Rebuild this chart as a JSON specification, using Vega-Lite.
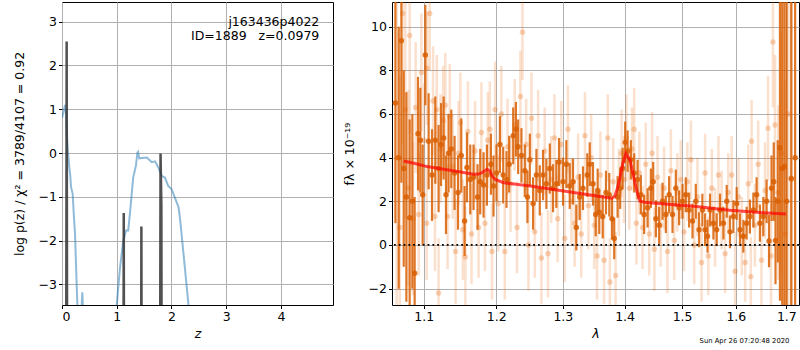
{
  "$schema": "https://vega.github.io/schema/vega-lite/v6.json",
  "padding": {"left": 12, "top": 1, "right": 0, "bottom": 0},
  "config": {
    "font": "DejaVu Sans",
    "view": {"stroke": "black", "strokeWidth": 1},
    "axis": {
      "domain": false,
      "labelFont": "DejaVu Sans", "labelFontSize": 12.5, "labelColor": "black",
      "tickColor": "black", "tickSize": 3.5, "labelPadding": 2,
      "gridColor": "#b0b0b0", "gridWidth": 1,
      "titleFont": "DejaVu Sans", "titleFontSize": 12.5, "titleFontWeight": "normal", "titleColor": "black"
    }
  },
  "title": {"text": "Sun Apr 26 07:20:48 2020", "orient": "bottom", "anchor": "end", "fontSize": 6.8, "fontWeight": "normal", "color": "black", "offset": -2, "dx": -11},
  "bounds": "flush",
  "spacing": 59,
  "datasets": {
    "chi2": [
      {"z":0.0,"v":0.8},{"z":0.03,"v":0.95},{"z":0.055,"v":1.1},{"z":0.07,"v":0.95},{"z":0.085,"v":0.45},{"z":0.11,"v":0.0},{"z":0.134,"v":-0.33},{"z":0.15,"v":-0.5},{"z":0.165,"v":-0.78},{"z":0.195,"v":-0.93},{"z":0.22,"v":-1.5},{"z":0.238,"v":-1.84},{"z":0.26,"v":-2.7},{"z":0.28,"v":-3.46},{"z":0.30,"v":-4.0},{"z":0.33,"v":-4.5},{"z":0.355,"v":-3.6},{"z":0.371,"v":-3.18},{"z":0.385,"v":-3.6},{"z":0.41,"v":-4.5},{"z":0.6,"v":-8},{"z":0.9,"v":-6},{"z":0.98,"v":-4.0},{"z":1.0,"v":-3.46},{"z":1.06,"v":-2.61},{"z":1.12,"v":-2.0},{"z":1.17,"v":-1.77},{"z":1.21,"v":-1.77},{"z":1.24,"v":-1.39},{"z":1.30,"v":-0.56},{"z":1.35,"v":-0.29},{"z":1.377,"v":0.01},{"z":1.39,"v":0.03},{"z":1.41,"v":-0.12},{"z":1.55,"v":-0.1},{"z":1.64,"v":-0.21},{"z":1.7,"v":-0.19},{"z":1.76,"v":-0.33},{"z":1.82,"v":-0.52},{"z":1.88,"v":-0.56},{"z":1.94,"v":-0.75},{"z":2.0,"v":-0.82},{"z":2.06,"v":-1.01},{"z":2.13,"v":-1.24},{"z":2.16,"v":-1.55},{"z":2.22,"v":-2.31},{"z":2.31,"v":-3.46},{"z":2.4,"v":-4.5},{"z":3.0,"v":-9},{"z":4.95,"v":-12}
    ],
    "pz": [
      {"z":0.0,"v":-20},{"z":0.06,"v":-20},{"z":0.085,"v":2.55},{"z":0.11,"v":-20},{"z":1.105,"v":-20},{"z":1.128,"v":-1.37},{"z":1.151,"v":-20},{"z":1.425,"v":-20},{"z":1.45,"v":-1.68},{"z":1.475,"v":-20},{"z":1.77,"v":-20},{"z":1.80,"v":-0.01},{"z":1.815,"v":-1.2},{"z":1.84,"v":-20},{"z":4.95,"v":-20}
    ],
    "model": [
      {"w":1.074,"f":3.85},{"w":1.09,"f":3.72},{"w":1.1045,"f":3.59},{"w":1.127,"f":3.47},{"w":1.15,"f":3.34},{"w":1.168,"f":3.24},{"w":1.175,"f":3.25},{"w":1.181,"f":3.33},{"w":1.187,"f":3.47},{"w":1.1905,"f":3.4},{"w":1.1945,"f":3.15},{"w":1.1987,"f":3.0},{"w":1.2107,"f":2.85},{"w":1.25,"f":2.7},{"w":1.301,"f":2.47},{"w":1.354,"f":2.24},{"w":1.3785,"f":2.14},{"w":1.3839,"f":2.24},{"w":1.388,"f":2.6},{"w":1.3922,"f":3.08},{"w":1.397,"f":3.75},{"w":1.4023,"f":4.18},{"w":1.409,"f":3.9},{"w":1.4135,"f":3.35},{"w":1.4175,"f":2.85},{"w":1.422,"f":2.35},{"w":1.426,"f":2.0},{"w":1.4375,"f":1.94},{"w":1.526,"f":1.76},{"w":1.588,"f":1.59},{"w":1.653,"f":1.48},{"w":1.699,"f":1.42}
    ],
    "dark": [
      {"w":1.0633,"f":6.5,"e":5.5},{"w":1.0676,"f":4.0,"e":6.0},{"w":1.071,"f":9.35,"e":6.5},{"w":1.074,"f":3.5,"e":4.5},{"w":1.0774,"f":2.2,"e":4.8},{"w":1.0817,"f":1.25,"e":4.5},{"w":1.0852,"f":2.0,"e":4.0},{"w":1.0882,"f":-1.3,"e":3.5},{"w":1.0926,"f":5.1,"e":2.6},{"w":1.0957,"f":4.8,"e":2.4},{"w":1.0987,"f":2.3,"e":2.3},{"w":1.1022,"f":8.7,"e":2.3},{"w":1.1066,"f":4.75,"e":2.2},{"w":1.1111,"f":3.2,"e":2.1},{"w":1.1155,"f":4.8,"e":2.0},{"w":1.1199,"f":3.5,"e":2.0},{"w":1.1232,"f":4.6,"e":1.9},{"w":1.1267,"f":4.9,"e":1.9},{"w":1.1299,"f":2.3,"e":1.8},{"w":1.1334,"f":4.2,"e":1.8},{"w":1.1371,"f":4.4,"e":1.8},{"w":1.1416,"f":3.3,"e":1.7},{"w":1.1463,"f":2.4,"e":1.7},{"w":1.1508,"f":4.1,"e":1.7},{"w":1.1554,"f":1.1,"e":1.6},{"w":1.1587,"f":3.55,"e":1.6},{"w":1.1633,"f":3.0,"e":1.6},{"w":1.1679,"f":3.1,"e":1.5},{"w":1.1735,"f":2.2,"e":1.5},{"w":1.1773,"f":2.9,"e":1.5},{"w":1.182,"f":2.75,"e":1.5},{"w":1.1868,"f":3.2,"e":1.4},{"w":1.1925,"f":3.7,"e":1.4},{"w":1.1962,"f":2.7,"e":1.4},
      {"w":1.2005,"f":3.3,"e":1.3},{"w":1.2054,"f":4.6,"e":1.3},{"w":1.2102,"f":3.2,"e":1.3},{"w":1.215,"f":3.0,"e":1.3},{"w":1.2189,"f":3.7,"e":1.3},{"w":1.2248,"f":5.0,"e":1.3},{"w":1.2288,"f":5.3,"e":1.25},{"w":1.2321,"f":4.5,"e":1.25},{"w":1.237,"f":4.1,"e":1.25},{"w":1.242,"f":3.4,"e":1.2},{"w":1.2459,"f":2.2,"e":1.2},{"w":1.2495,"f":3.9,"e":1.2},{"w":1.2544,"f":1.9,"e":1.2},{"w":1.2594,"f":3.2,"e":1.2},{"w":1.2645,"f":2.5,"e":1.15},{"w":1.2695,"f":3.2,"e":1.15},{"w":1.2746,"f":2.8,"e":1.15},{"w":1.2798,"f":3.5,"e":1.15},{"w":1.2848,"f":2.6,"e":1.1},{"w":1.2899,"f":2.8,"e":1.1},{"w":1.2941,"f":3.8,"e":1.1},{"w":1.3003,"f":2.9,"e":1.1},{"w":1.3055,"f":3.7,"e":1.1},{"w":1.3108,"f":2.7,"e":1.05},{"w":1.316,"f":2.9,"e":1.05},{"w":1.3212,"f":0.8,"e":1.05},{"w":1.3266,"f":2.2,"e":1.05},{"w":1.3318,"f":2.6,"e":1.0},{"w":1.3387,"f":3.2,"e":1.0},{"w":1.3426,"f":3.7,"e":1.0},{"w":1.3479,"f":2.8,"e":1.0},{"w":1.3523,"f":1.4,"e":1.0},
      {"w":1.3555,"f":2.5,"e":1.0},{"w":1.3581,"f":1.5,"e":1.0},{"w":1.3637,"f":1.3,"e":1.0},{"w":1.3691,"f":2.4,"e":1.0},{"w":1.3745,"f":2.3,"e":1.0},{"w":1.3789,"f":1.2,"e":0.95},{"w":1.3827,"f":0.3,"e":0.95},{"w":1.3883,"f":2.2,"e":0.95},{"w":1.3927,"f":2.6,"e":0.95},{"w":1.3967,"f":3.5,"e":0.95},{"w":1.401,"f":4.7,"e":0.95},{"w":1.4051,"f":4.3,"e":0.95},{"w":1.4106,"f":3.9,"e":0.9},{"w":1.4162,"f":3.3,"e":0.9},{"w":1.422,"f":3.0,"e":0.9},{"w":1.4276,"f":2.3,"e":0.9},{"w":1.4333,"f":1.4,"e":0.9},{"w":1.4392,"f":1.7,"e":0.9},{"w":1.4449,"f":2.6,"e":0.9},{"w":1.4489,"f":2.9,"e":0.9},{"w":1.4536,"f":1.2,"e":0.85},{"w":1.4593,"f":0.9,"e":0.85},{"w":1.4653,"f":2.0,"e":0.85},{"w":1.4711,"f":1.4,"e":0.85},{"w":1.4769,"f":2.3,"e":0.85},{"w":1.4829,"f":1.4,"e":0.85},{"w":1.4888,"f":2.6,"e":0.85},{"w":1.4947,"f":1.7,"e":0.8},{"w":1.5008,"f":2.0,"e":0.8},{"w":1.5067,"f":2.3,"e":0.8},{"w":1.5127,"f":1.6,"e":0.8},{"w":1.5189,"f":1.1,"e":0.8},{"w":1.5249,"f":2.0,"e":0.8},{"w":1.5309,"f":0.7,"e":0.8},
      {"w":1.537,"f":1.6,"e":0.75},{"w":1.542,"f":0.7,"e":0.75},{"w":1.5465,"f":0.4,"e":0.75},{"w":1.5512,"f":1.6,"e":0.75},{"w":1.5575,"f":1.0,"e":0.75},{"w":1.5637,"f":0.7,"e":0.75},{"w":1.5699,"f":1.6,"e":0.75},{"w":1.5763,"f":1.0,"e":0.75},{"w":1.5826,"f":2.0,"e":0.75},{"w":1.5888,"f":0.6,"e":0.75},{"w":1.5953,"f":1.3,"e":0.75},{"w":1.6016,"f":1.9,"e":0.75},{"w":1.608,"f":0.7,"e":0.75},{"w":1.6145,"f":0.4,"e":0.75},{"w":1.6209,"f":1.0,"e":0.75},{"w":1.6273,"f":1.3,"e":0.78},{"w":1.634,"f":1.6,"e":0.8},{"w":1.6404,"f":2.3,"e":0.8},{"w":1.6469,"f":1.0,"e":0.85},{"w":1.6536,"f":1.3,"e":0.9},{"w":1.6602,"f":2.0,"e":1.0},{"w":1.665,"f":0.18,"e":1.2},{"w":1.67,"f":2.6,"e":1.5},{"w":1.6745,"f":2.9,"e":1.8},{"w":1.678,"f":0.2,"e":2.0},{"w":1.6825,"f":2.0,"e":2.8},{"w":1.687,"f":4.45,"e":7},{"w":1.6915,"f":3.5,"e":8},{"w":1.696,"f":3.6,"e":8},{"w":1.7005,"f":2.0,"e":12},{"w":1.71,"f":3.05,"e":12},{"w":1.718,"f":4.0,"e":12}
    ],
    "light": [
      {"w":1.065,"f":4.0,"e":8},{"w":1.069,"f":0.8,"e":7},{"w":1.0725,"f":10.6,"e":6},{"w":1.076,"f":6.2,"e":5},{"w":1.08,"f":2.6,"e":4.5},{"w":1.0817,"f":9.6,"e":4.5},{"w":1.086,"f":1.2,"e":3.5},{"w":1.0895,"f":6.3,"e":3.0},{"w":1.0935,"f":1.4,"e":2.8},{"w":1.097,"f":7.9,"e":2.7},{"w":1.1005,"f":4.8,"e":2.6},{"w":1.104,"f":1.0,"e":2.6},{"w":1.1045,"f":8.1,"e":2.6},{"w":1.108,"f":10.6,"e":2.6},{"w":1.1125,"f":6.6,"e":2.5},{"w":1.115,"f":1.3,"e":2.5},{"w":1.1175,"f":6.2,"e":2.5},{"w":1.1199,"f":-2.2,"e":2.5},{"w":1.1225,"f":4.4,"e":2.5},{"w":1.126,"f":5.7,"e":2.5},{"w":1.129,"f":6.4,"e":2.4},{"w":1.132,"f":1.3,"e":2.4},{"w":1.135,"f":5.9,"e":2.4},{"w":1.139,"f":3.6,"e":2.4},{"w":1.143,"f":-0.3,"e":2.4},{"w":1.147,"f":4.2,"e":2.4},{"w":1.1495,"f":5.6,"e":2.3},{"w":1.153,"f":0.7,"e":2.3},{"w":1.1565,"f":-0.55,"e":2.3},{"w":1.16,"f":5.2,"e":2.3},{"w":1.165,"f":0.5,"e":2.3},{"w":1.17,"f":4.3,"e":2.3},{"w":1.175,"f":0.8,"e":2.3},{"w":1.179,"f":5.15,"e":2.3},{"w":1.184,"f":1.0,"e":2.2},{"w":1.188,"f":4.8,"e":2.2},{"w":1.191,"f":5.3,"e":2.2},{"w":1.194,"f":-0.3,"e":2.2},{"w":1.1985,"f":6.2,"e":2.2},
      {"w":1.203,"f":1.9,"e":2.2},{"w":1.2075,"f":6.0,"e":2.2},{"w":1.2125,"f":-0.3,"e":2.2},{"w":1.2165,"f":4.5,"e":2.2},{"w":1.221,"f":2.8,"e":2.2},{"w":1.227,"f":5.5,"e":2.1},{"w":1.2305,"f":0.8,"e":2.1},{"w":1.2355,"f":6.8,"e":2.1},{"w":1.2385,"f":9.75,"e":2.2},{"w":1.244,"f":4.6,"e":2.1},{"w":1.2475,"f":0.0,"e":2.1},{"w":1.252,"f":5.8,"e":2.1},{"w":1.257,"f":0.6,"e":2.1},{"w":1.262,"f":5.0,"e":2.1},{"w":1.267,"f":-0.6,"e":2.1},{"w":1.272,"f":4.3,"e":2.0},{"w":1.277,"f":-0.4,"e":2.0},{"w":1.282,"f":3.0,"e":2.0},{"w":1.287,"f":4.9,"e":2.0},{"w":1.292,"f":1.2,"e":2.0},{"w":1.2975,"f":4.6,"e":2.0},{"w":1.303,"f":0.3,"e":2.0},{"w":1.308,"f":5.3,"e":2.0},{"w":1.3135,"f":2.0,"e":2.0},{"w":1.3185,"f":1.0,"e":2.0},{"w":1.324,"f":3.1,"e":2.0},{"w":1.329,"f":0.5,"e":2.0},{"w":1.335,"f":5.0,"e":2.0},{"w":1.3405,"f":1.8,"e":2.0},{"w":1.345,"f":4.0,"e":2.0},
      {"w":1.35,"f":0.9,"e":2.0},{"w":1.3545,"f":-0.5,"e":2.0},{"w":1.36,"f":3.2,"e":2.0},{"w":1.366,"f":-0.7,"e":2.0},{"w":1.372,"f":4.9,"e":2.0},{"w":1.3755,"f":-1.7,"e":2.0},{"w":1.381,"f":2.9,"e":2.0},{"w":1.385,"f":-1.4,"e":2.0},{"w":1.3905,"f":2.4,"e":2.0},{"w":1.395,"f":4.2,"e":2.0},{"w":1.399,"f":3.0,"e":2.0},{"w":1.403,"f":4.9,"e":2.0},{"w":1.408,"f":2.6,"e":1.9},{"w":1.4125,"f":4.4,"e":1.9},{"w":1.4162,"f":5.3,"e":1.9},{"w":1.42,"f":1.0,"e":1.9},{"w":1.425,"f":3.3,"e":1.9},{"w":1.4305,"f":0.8,"e":1.9},{"w":1.436,"f":3.7,"e":1.9},{"w":1.442,"f":0.5,"e":1.9},{"w":1.447,"f":4.2,"e":1.9},{"w":1.451,"f":-0.2,"e":1.9},{"w":1.4565,"f":3.1,"e":1.9},{"w":1.462,"f":0.9,"e":1.9},{"w":1.468,"f":2.6,"e":1.9},{"w":1.474,"f":-0.3,"e":1.9},{"w":1.48,"f":3.4,"e":1.9},{"w":1.486,"f":0.2,"e":1.8},{"w":1.4915,"f":2.4,"e":1.8},{"w":1.4975,"f":3.0,"e":1.8},{"w":1.5035,"f":0.6,"e":1.8},{"w":1.5095,"f":2.9,"e":1.8},{"w":1.516,"f":3.9,"e":1.8},{"w":1.522,"f":0.0,"e":1.8},{"w":1.528,"f":2.2,"e":1.8},
      {"w":1.5355,"f":-0.8,"e":1.8},{"w":1.542,"f":3.3,"e":1.8},{"w":1.548,"f":-0.5,"e":1.8},{"w":1.5545,"f":2.6,"e":1.8},{"w":1.5605,"f":0.8,"e":1.8},{"w":1.567,"f":3.2,"e":1.8},{"w":1.573,"f":1.6,"e":1.8},{"w":1.5795,"f":-0.4,"e":1.8},{"w":1.5855,"f":2.4,"e":1.8},{"w":1.592,"f":3.2,"e":1.8},{"w":1.5985,"f":-1.2,"e":1.8},{"w":1.605,"f":2.2,"e":1.8},{"w":1.6115,"f":0.4,"e":1.8},{"w":1.618,"f":-0.8,"e":1.8},{"w":1.624,"f":2.8,"e":1.8},{"w":1.629,"f":-1.45,"e":1.8},{"w":1.6305,"f":4.75,"e":1.9},{"w":1.637,"f":0.9,"e":1.9},{"w":1.6435,"f":3.7,"e":2.0},{"w":1.65,"f":-0.7,"e":2.1},{"w":1.657,"f":2.5,"e":2.2},{"w":1.663,"f":5.35,"e":2.4},{"w":1.669,"f":-0.5,"e":2.6},{"w":1.6728,"f":9.3,"e":3.0},{"w":1.677,"f":5.5,"e":3.2},{"w":1.6835,"f":2.4,"e":4.0},{"w":1.69,"f":4.2,"e":5.5},{"w":1.697,"f":0.5,"e":7},{"w":1.704,"f":6.0,"e":9},{"w":1.711,"f":3.0,"e":10}
    ]
  },
  "hconcat": [
    {
      "width": 271, "height": 303,
      "layer": [
        {
          "data": {"name": "chi2"},
          "mark": {"type": "line", "color": "#1f77b4", "opacity": 0.5, "strokeWidth": 2, "clip": true},
          "encoding": {
            "x": {"field": "z", "type": "quantitative", "title": "z", "scale": {"domain": [0, 4.95], "nice": false, "zero": false},
                  "axis": {"values": [0, 1, 2, 3, 4], "titleFontStyle": "italic", "grid": true}},
            "y": {"field": "v", "type": "quantitative", "title": "log p(z) / χ² = 3789/4107 = 0.92", "scale": {"domain": [-3.47, 3.45], "nice": false, "zero": false},
                  "axis": {"values": [-3, -2, -1, 0, 1, 2, 3], "grid": true, "titlePadding": 12}}
          }
        },
        {
          "data": {"name": "pz"},
          "mark": {"type": "line", "color": "#333333", "opacity": 0.85, "strokeWidth": 2.5, "clip": true},
          "encoding": {
            "x": {"field": "z", "type": "quantitative", "title": "z"},
            "y": {"field": "v", "type": "quantitative", "title": "log p(z) / χ² = 3789/4107 = 0.92"}
          }
        },
        {
          "data": {"values": [{}]},
          "mark": {"type": "text", "align": "right", "baseline": "middle", "fontSize": 12.5, "color": "black"},
          "encoding": {"x": {"datum": 4.7}, "y": {"datum": 3.0}, "text": {"value": "j163436p4022"}}
        },
        {
          "data": {"values": [{}]},
          "mark": {"type": "text", "align": "right", "baseline": "middle", "fontSize": 12.5, "color": "black"},
          "encoding": {"x": {"datum": 4.7}, "y": {"datum": 2.68}, "text": {"value": "ID=1889\u00a0\u00a0\u00a0z=0.0979"}}
        }
      ]
    },
    {
      "width": 407, "height": 303,
      "layer": [
        {
          "data": {"name": "light"},
          "mark": {"type": "errorbar", "clip": true, "ticks": false, "color": "#e8701a", "opacity": 0.22, "rule": {"strokeWidth": 2.5}},
          "encoding": {
            "x": {"field": "w", "type": "quantitative", "title": "λ", "scale": {"type": "log", "domain": [1.059, 1.726], "nice": false, "zero": false},
                  "axis": {"values": [1.1, 1.2, 1.3, 1.4, 1.5, 1.6, 1.7], "format": ".1f", "titleFontStyle": "italic", "grid": true}},
            "y": {"field": "f", "type": "quantitative", "title": "fλ × 10⁻¹⁹", "scale": {"domain": [-2.75, 11.13], "nice": false, "zero": false},
                  "axis": {"values": [-2, 0, 2, 4, 6, 8, 10], "grid": true, "titlePadding": 12}},
            "yError": {"field": "e"}
          }
        },
        {
          "data": {"name": "light"},
          "mark": {"type": "point", "filled": true, "shape": "circle", "size": 30, "color": "#e8701a", "opacity": 0.3, "clip": true},
          "encoding": {
            "x": {"field": "w", "type": "quantitative", "title": "λ"},
            "y": {"field": "f", "type": "quantitative", "title": "fλ × 10⁻¹⁹"}
          }
        },
        {
          "data": {"name": "dark"},
          "mark": {"type": "errorbar", "clip": true, "ticks": false, "color": "#d95f02", "opacity": 0.85, "rule": {"strokeWidth": 2.2}},
          "encoding": {
            "x": {"field": "w", "type": "quantitative", "title": "λ"},
            "y": {"field": "f", "type": "quantitative", "title": "fλ × 10⁻¹⁹"},
            "yError": {"field": "e"}
          }
        },
        {
          "data": {"name": "dark"},
          "mark": {"type": "point", "filled": true, "shape": "circle", "size": 30, "color": "#d95f02", "opacity": 0.85, "clip": true},
          "encoding": {
            "x": {"field": "w", "type": "quantitative", "title": "λ"},
            "y": {"field": "f", "type": "quantitative", "title": "fλ × 10⁻¹⁹"}
          }
        },
        {
          "data": {"name": "model"},
          "mark": {"type": "line", "color": "#ff0000", "opacity": 0.7, "strokeWidth": 3, "clip": true},
          "encoding": {
            "x": {"field": "w", "type": "quantitative", "title": "λ"},
            "y": {"field": "f", "type": "quantitative", "title": "fλ × 10⁻¹⁹"}
          }
        },
        {
          "data": {"values": [{}]},
          "mark": {"type": "rule", "color": "black", "strokeWidth": 1.8, "strokeDash": [1.8, 3]},
          "encoding": {"y": {"datum": 0}}
        }
      ]
    }
  ]
}
